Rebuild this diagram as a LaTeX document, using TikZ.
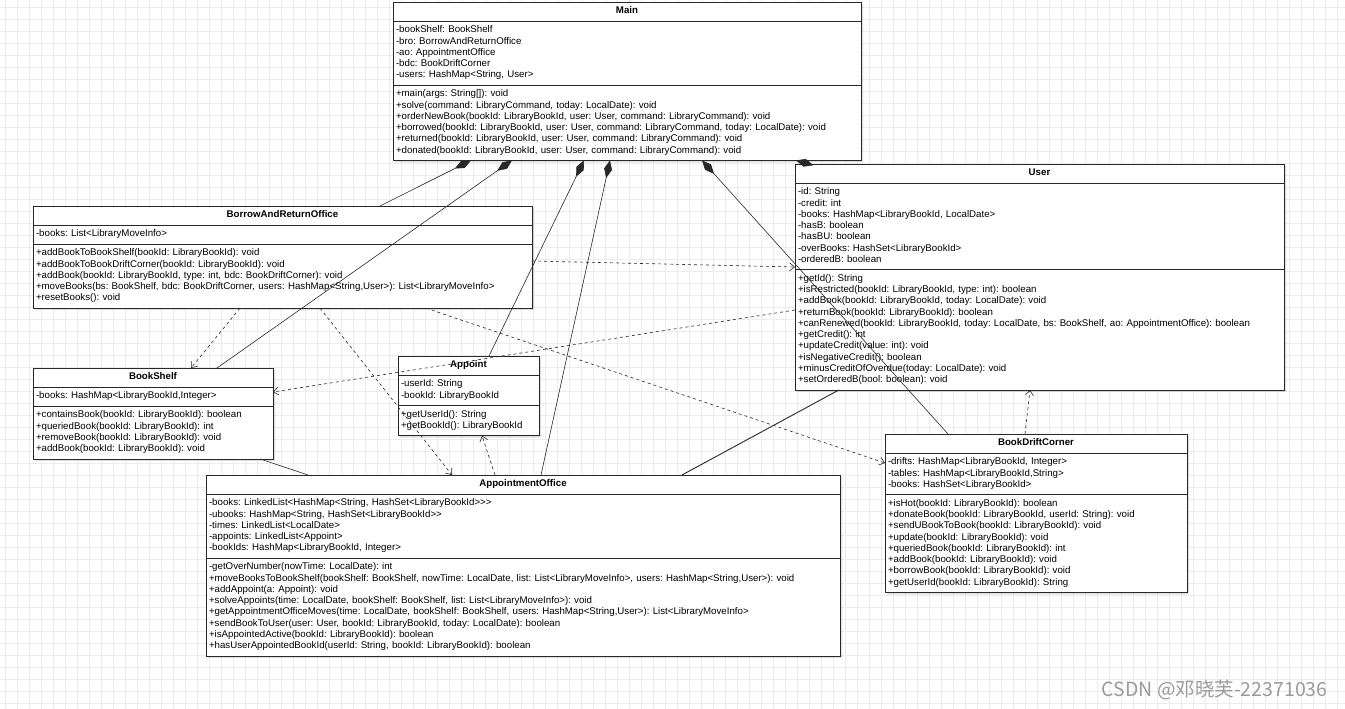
\documentclass[tikz,border=0pt]{standalone}
\usepackage{fontspec}
\setmainfont{Liberation Sans}
\newfontfamily\cjkfont{Noto Sans CJK SC}
\usetikzlibrary{arrows.meta,positioning,calc,shapes.multipart,shadows}
\definecolor{gridgray}{RGB}{236,236,236}
\definecolor{edge}{RGB}{40,40,40}
\definecolor{wmark}{RGB}{155,155,155}
\tikzset{
 umlclass/.style={rectangle split, rectangle split parts=3, draw=edge, fill=white, line width=.8pt,
             anchor=north west, inner xsep=3pt, inner ysep=3.5pt, outer sep=0pt, align=left,
             font=\fontsize{9.7}{11.25}\selectfont\frenchspacing,
             drop shadow={shadow xshift=2pt, shadow yshift=-2pt, opacity=.25}},
 comp/.style={arrows={Diamond[length=18pt,width=8pt]-}, line width=.6pt, draw=edge},
 assoc/.style={line width=.9pt, draw=edge},
 dep/.style={-{Straight Barb[length=5pt,width=8pt]}, dash pattern=on 3pt off 3pt, line width=.6pt, draw=edge},
 gridln/.style={draw=gridgray, line width=.8pt}
}
\newcommand{\ctitle}[1]{\hbox to\hsize{\hfil\strut\textbf{#1}\hfil}}

\begin{document}
\begin{tikzpicture}[x=1pt,y=-1pt]

\useasboundingbox (0,0) rectangle (1345,709);
\fill[white] (0,0) rectangle (1345,709);
% canvas grid
\foreach \gx in {5,17,...,1345} \draw[gridln] (\gx,0) -- (\gx,709);
\foreach \gy in {7,19,...,709} \draw[gridln] (0,\gy) -- (1345,\gy);

\node[umlclass, text width=462pt] (main) at (393,2) {\ctitle{Main}
 \nodepart{two}\strut-bookShelf: BookShelf\\-bro: BorrowAndReturnOffice\\-ao: AppointmentOffice\\-bdc: BookDriftCorner\\-users: HashMap<String, User>\strut
 \nodepart{three}\strut+main(args: String[]): void\\+solve(command: LibraryCommand, today: LocalDate): void\\+orderNewBook(bookId: LibraryBookId, user: User, command: LibraryCommand): void\\+borrowed(bookId: LibraryBookId, user: User, command: LibraryCommand, today: LocalDate): void\\+returned(bookId: LibraryBookId, user: User, command: LibraryCommand): void\\+donated(bookId: LibraryBookId, user: User, command: LibraryCommand): void\strut};

\node[umlclass, text width=483pt] (user) at (795,164) {\ctitle{User}
 \nodepart{two}\strut-id: String\\-credit: int\\-books: HashMap<LibraryBookId, LocalDate>\\-hasB: boolean\\-hasBU: boolean\\-overBooks: HashSet<LibraryBookId>\\-orderedB: boolean\strut
 \nodepart{three}\strut+getId(): String\\+isRestricted(bookId: LibraryBookId, type: int): boolean\\+addBook(bookId: LibraryBookId, today: LocalDate): void\\+returnBook(bookId: LibraryBookId): boolean\\+canRenewed(bookId: LibraryBookId, today: LocalDate, bs: BookShelf, ao: AppointmentOffice): boolean\\+getCredit(): int\\+updateCredit(value: int): void\\+isNegativeCredit(): boolean\\+minusCreditOfOverdue(today: LocalDate): void\\+setOrderedB(bool: boolean): void\strut};

\node[umlclass, text width=493pt] (office) at (33,206) {\ctitle{BorrowAndReturnOffice}
 \nodepart{two}\strut-books: List<LibraryMoveInfo>\strut
 \nodepart{three}\strut+addBookToBookShelf(bookId: LibraryBookId): void\\+addBookToBookDriftCorner(bookId: LibraryBookId): void\\+addBook(bookId: LibraryBookId, type: int, bdc: BookDriftCorner): void\\+moveBooks(bs: BookShelf, bdc: BookDriftCorner, users: HashMap<String,User>): List<LibraryMoveInfo>\\+resetBooks(): void\strut};

\node[umlclass, text width=234pt] (shelf) at (33,368) {\ctitle{BookShelf}
 \nodepart{two}\strut-books: HashMap<LibraryBookId,Integer>\strut
 \nodepart{three}\strut+containsBook(bookId: LibraryBookId): boolean\\+queriedBook(bookId: LibraryBookId): int\\+removeBook(bookId: LibraryBookId): void\\+addBook(bookId: LibraryBookId): void\strut};

\node[umlclass, text width=135pt] (appoint) at (398,356) {\ctitle{Appoint}
 \nodepart{two}\strut-userId: String\\-bookId: LibraryBookId\strut
 \nodepart{three}\strut+getUserId(): String\\+getBookId(): LibraryBookId\strut};

\node[umlclass, text width=628pt] (aoffice) at (206,475) {\ctitle{AppointmentOffice}
 \nodepart{two}\strut-books: LinkedList<HashMap<String, HashSet<LibraryBookId>{}>{}>\\-ubooks: HashMap<String, HashSet<LibraryBookId>{}>\\-times: LinkedList<LocalDate>\\-appoints: LinkedList<Appoint>\\-bookIds: HashMap<LibraryBookId, Integer>\strut
 \nodepart{three}\strut-getOverNumber(nowTime: LocalDate): int\\+moveBooksToBookShelf(bookShelf: BookShelf, nowTime: LocalDate, list: List<LibraryMoveInfo>, users: HashMap<String,User>): void\\+addAppoint(a: Appoint): void\\+solveAppoints(time: LocalDate, bookShelf: BookShelf, list: List<LibraryMoveInfo>): void\\+getAppointmentOfficeMoves(time: LocalDate, bookShelf: BookShelf, users: HashMap<String,User>): List<LibraryMoveInfo>\\+sendBookToUser(user: User, bookId: LibraryBookId, today: LocalDate): boolean\\+isAppointedActive(bookId: LibraryBookId): boolean\\+hasUserAppointedBookId(userId: String, bookId: LibraryBookId): boolean\strut};

\node[umlclass, text width=296pt] (drift) at (885,434) {\ctitle{BookDriftCorner}
 \nodepart{two}\strut-drifts: HashMap<LibraryBookId, Integer>\\-tables: HashMap<LibraryBookId,String>\\-books: HashSet<LibraryBookId>\strut
 \nodepart{three}\strut+isHot(bookId: LibraryBookId): boolean\\+donateBook(bookId: LibraryBookId, userId: String): void\\+sendUBookToBook(bookId: LibraryBookId): void\\+update(bookId: LibraryBookId): void\\+queriedBook(bookId: LibraryBookId): int\\+addBook(bookId: LibraryBookId): void\\+borrowBook(bookId: LibraryBookId): void\\+getUserId(bookId: LibraryBookId): String\strut};

% compositions held by Main
\draw[comp] ($(main.south west)+(78,0)$) -- ($(office.north west)+(347,0)$);
\draw[comp] ($(main.south west)+(119,0)$) -- ($(shelf.north west)+(184,0)$);
\draw[comp] ($(main.south west)+(191,0)$) -- ($(appoint.north west)+(91,0)$);
\draw[comp] ($(main.south west)+(217,0)$) -- ($(aoffice.north west)+(335,0)$);
\draw[comp] ($(main.south west)+(309,0)$) -- ($(drift.north west)+(63,0)$);
\draw[comp] ($(main.south west)+(403,0)$) -- ($(user.north west)+(14,0)$);

% associations
\draw[assoc] ($(user.south west)+(44,0)$) -- ($(aoffice.north west)+(476,0)$);
\draw[assoc, line width=.6pt] ($(shelf.south west)+(227,0)$) -- ($(aoffice.north west)+(102,0)$);

% dependencies
\draw[dep] ($(office.south west)+(207,0)$) -- ($(shelf.north west)+(158,0)$);
\draw[dep] ($(office.south west)+(287,0)$) -- ($(aoffice.north west)+(246,0)$);
\draw[dep] ($(office.south west)+(393,0)$) -- ($(drift.north west)+(0,29)$);
\draw[dep] ($(office.north east)+(0,55)$) -- ($(user.north west)+(0,103)$);
\draw[dep] ($(user.north west)+(0,146)$) -- ($(shelf.north east)+(0,24)$);
\draw[dep] ($(aoffice.north west)+(289,0)$) -- ($(appoint.south west)+(84,0)$);
\draw[dep] ($(drift.north west)+(140,0)$) -- ($(user.south west)+(235,0)$);

\node[font=\cjkfont\fontsize{19.5}{22}\selectfont, text=wmark, anchor=east] (wm) at (1331,690) {CSDN @邓晓芙-22371036};

\end{tikzpicture}
\end{document}
